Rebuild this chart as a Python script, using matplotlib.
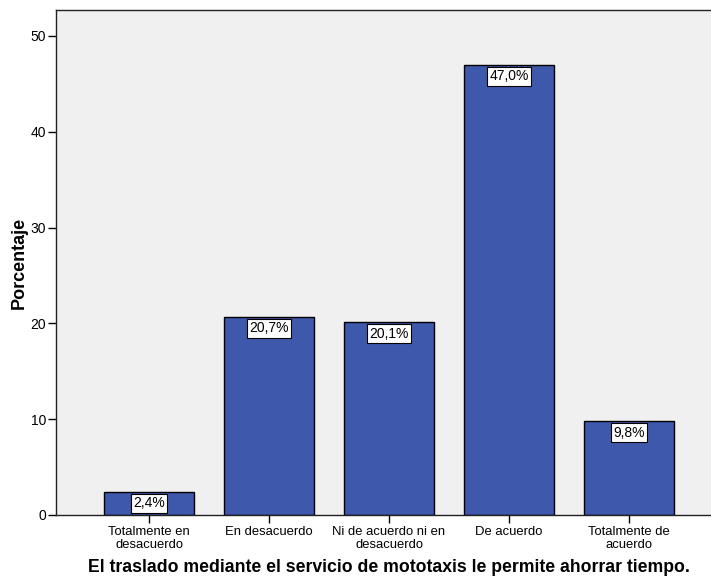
import matplotlib
matplotlib.use("Agg")
import matplotlib.pyplot as plt

categories = ["Totalmente en\ndesacuerdo", "En desacuerdo", "Ni de acuerdo ni en\ndesacuerdo",
              "De acuerdo", "Totalmente de\nacuerdo"]
values = [2.4, 20.7, 20.1, 47.0, 9.8]
yticks = [0, 10, 20, 30, 40, 50]

plt.rcParams['font.family'] = ['Liberation Sans', 'DejaVu Sans']

fig = plt.figure(figsize=(7.11, 5.78), dpi=100)
ax = fig.add_axes([56 / 711, 63 / 578, 1 - 56 / 711, (515 - 10) / 578])
ax.set_facecolor('#F0F0F0')

x = list(range(len(categories)))
ax.bar(x, values, width=0.75, color='#3E58AC', edgecolor='black', linewidth=1.0, zorder=2)

for xi, v in zip(x, values):
    label = f"{v:.1f}%".replace('.', ',')
    ax.annotate(label, (xi, v), xytext=(0, -3.2), textcoords='offset points',
                ha='center', va='top', fontsize=10, zorder=3,
                bbox=dict(boxstyle='square,pad=0.18', facecolor='white',
                          edgecolor='black', linewidth=0.8))

ax.set_xlim(-0.775, 4.683)
ax.set_ylim(0, 52.7)
ax.set_yticks(yticks)
ax.set_xticks(x)
ax.set_xticklabels(categories, fontsize=9.4, linespacing=1.1)
ax.tick_params(axis='y', labelsize=10, length=6, width=1, direction='out', pad=1)
ax.tick_params(axis='x', length=6, width=1, direction='out', pad=2)

for s in ['left', 'top', 'bottom']:
    ax.spines[s].set_linewidth(1.0)
    ax.spines[s].set_color('#222222')
ax.spines['right'].set_visible(False)

ax.set_ylabel('Porcentaje', fontsize=13, fontweight='bold', labelpad=2)
ax.set_xlabel('El traslado mediante el servicio de mototaxis le permite ahorrar tiempo.',
              fontsize=12.7, fontweight='bold')
ax.xaxis.set_label_coords(0.508, -0.087)

fig.savefig('out.png', dpi=100)
